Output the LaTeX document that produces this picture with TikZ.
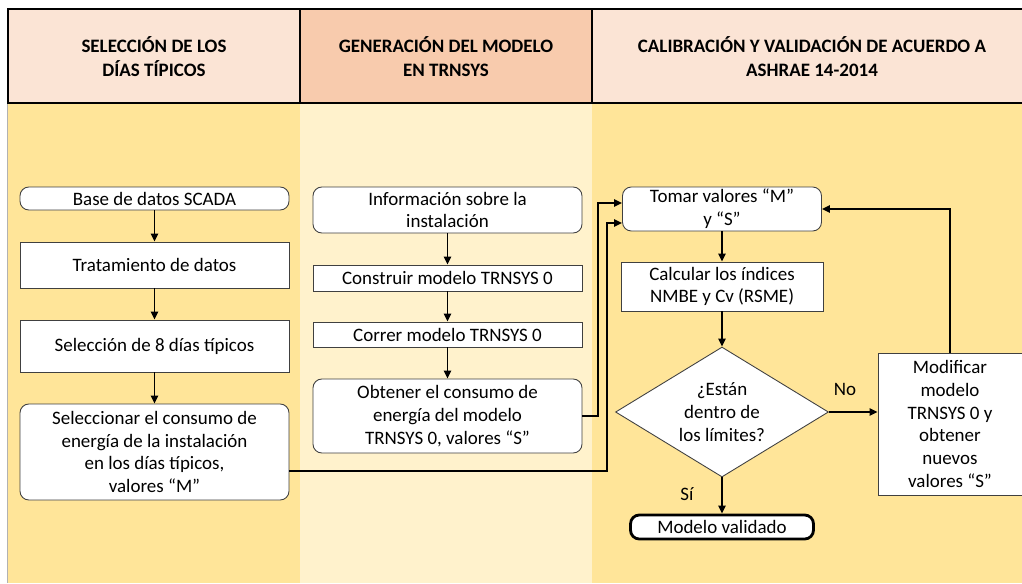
\documentclass[tikz,border=0pt]{standalone}
\usepackage{fontspec}
\setmainfont{Carlito}
\usetikzlibrary{shapes.geometric,arrows.meta}
\definecolor{cabclaro}{HTML}{FBE4D5}
\definecolor{cabosc}{HTML}{F8CBAD}
\definecolor{fondoamar}{HTML}{FFE599}
\definecolor{fondoclaro}{HTML}{FFF2CC}
\definecolor{bordecaja}{HTML}{404040}
\begin{document}
\begin{tikzpicture}[x=0.02cm,y=-0.02cm,
    font=\fontsize{10.8}{13}\selectfont,
    caja/.style={draw=bordecaja,fill=white,line width=0.5pt,align=center,inner sep=1pt},
    cajar/.style={caja,rounded corners=5pt},
    cabecera/.style={font=\fontsize{10.8}{13.7}\selectfont\bfseries,align=center},
    decision/.style={caja,diamond,aspect=1.64,inner sep=0pt,minimum width=4.26cm,minimum height=2.6cm},
    flecha/.style={-{Triangle[length=4.5pt,width=4pt]},line width=1.1pt}]
      \useasboundingbox (0,0) rectangle (1022,583);
      % fondos
      \fill[fondoamar] (8,103) rectangle (300,583);
      \fill[fondoclaro] (300,103) rectangle (592,583);
      \fill[fondoamar] (592,103) rectangle (1032,583);
      \draw[black!30,line width=0.4pt] (7.5,103) -- (7.5,583);
      % cabeceras
      \draw[line width=1.6pt,fill=cabclaro] (8,9) rectangle (300,103);
      \draw[line width=1.6pt,fill=cabosc] (300,9) rectangle (592,103);
      \draw[line width=1.6pt,fill=cabclaro] (592,9) rectangle (1032,103);
      \node[cabecera] (cab1) at (154,57) {SELECCIÓN DE LOS\\DÍAS TÍPICOS};
      \node[cabecera] (cab2) at (446,57) {GENERACIÓN DEL MODELO\\EN TRNSYS};
      \node[cabecera] (cab3) at (812,57) {CALIBRACIÓN Y VALIDACIÓN DE ACUERDO A\\ASHRAE 14-2014};
      % columna 1
      \node[cajar,minimum width=5.38cm,minimum height=0.46cm] (base) at (154.5,198.5) {Base de datos SCADA};
      \node[caja,minimum width=5.38cm,minimum height=0.92cm] (trat) at (154.5,265) {Tratamiento de datos};
      \node[caja,minimum width=5.38cm,minimum height=1.04cm] (sel8) at (154.5,346) {Selección de 8 días típicos};
      \node[cajar,minimum width=5.38cm,minimum height=1.92cm] (selcons) at (154.5,452) {Seleccionar el consumo de\\energía de la instalación\\en los días típicos,\\valores “M”};
      % columna 2
      \node[cajar,minimum width=5.38cm,minimum height=0.92cm] (info) at (447.5,210) {Información sobre la\\instalación};
      \node[caja,minimum width=5.38cm,minimum height=0.52cm] (constr) at (447.5,278) {Construir modelo TRNSYS 0};
      \node[caja,minimum width=5.38cm,minimum height=0.5cm] (correr) at (447.5,334.5) {Correr modelo TRNSYS 0};
      \node[cajar,minimum width=5.38cm,minimum height=1.48cm] (obtener) at (447.5,416) {Obtener el consumo de\\energía del modelo\\TRNSYS 0, valores “S”};
      % columna 3
      \node[cajar,minimum width=3.98cm,minimum height=0.88cm] (tomar) at (722,209) {Tomar valores “M”\\y “S”};
      \node[caja,minimum width=4.04cm,minimum height=0.98cm] (calc) at (722,286.5) {Calcular los índices\\NMBE y Cv (RSME)};
      \node[decision] (dec) at (722,412) {¿Están\\dentro de\\los límites?};
      \node[cajar,draw=black,line width=1.6pt,minimum width=3.66cm,minimum height=0.48cm] (valid) at (722,527) {Modelo validado};
      \node[caja,minimum width=2.88cm,minimum height=2.84cm] (modif) at (950,424) {Modificar\\modelo\\TRNSYS 0 y\\obtener\\nuevos\\valores “S”};
      \node (no) at (845,389) {No};
      \node (si) at (687,494) {Sí};
      \begin{scope}[flecha]
        \draw (base) to (trat);
        \draw (trat) to (sel8);
        \draw (sel8) to (selcons);
        \draw (info) to (constr);
        \draw (constr) to (correr);
        \draw (correr) to (obtener);
        \draw (obtener.east) -- ++(16,0) |- ([yshift=0.12cm]tomar.west);
        \draw ([yshift=-0.38cm]selcons.east) -- ++(318,0) |- ([yshift=-0.28cm]tomar.west);
        \draw (tomar) to (calc);
        \draw (calc) to (dec);
        \draw (dec) to (valid);
        \draw (dec.east) -- (dec.east -| modif.west);
        \draw (modif.north) |- (tomar.east);
      \end{scope}
    \end{tikzpicture}
\end{document}
